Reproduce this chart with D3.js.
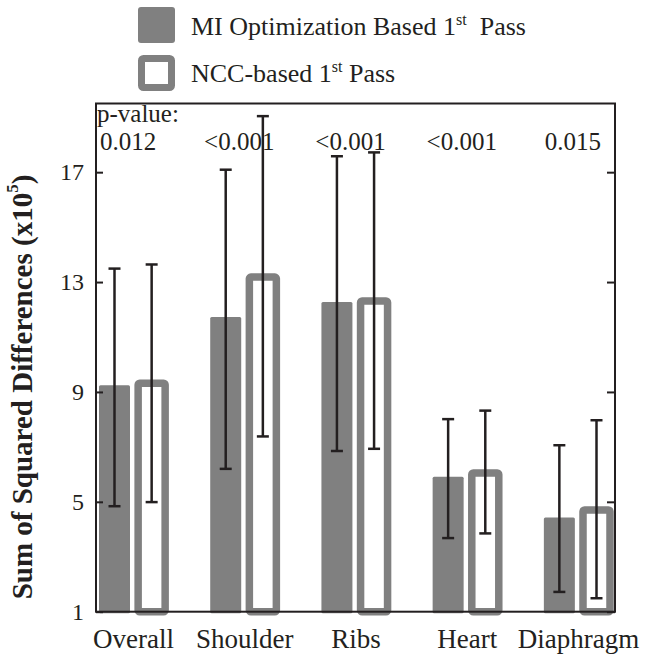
<!DOCTYPE html>
<html>
<head>
<meta charset="utf-8">
<script src="https://cdn.jsdelivr.net/npm/d3@7"></script>
<style>
  html, body { margin: 0; padding: 0; background: #fff; }
  svg, svg text { font-family: "Liberation Serif", "Times New Roman", Times, serif !important; }
</style>
</head>
<body>
<svg id="chart" width="650" height="656"></svg>
<script>
// Regions compared
const categories = ["Overall", "Shoulder", "Ribs", "Heart", "Diaphragm"];

// MI optimization based 1st pass: mean and error-bar limits (x10^5)
const miMean = [9.24, 11.73, 12.27, 5.91, 4.43];
const miLow  = [4.84, 6.20, 6.85, 3.68, 1.72];
const miHigh = [13.49, 17.09, 17.58, 8.01, 7.06];

// NCC-based 1st pass: mean and error-bar limits (x10^5)
const nccMean = [9.32, 13.18, 12.31, 6.05, 4.70];
const nccLow  = [4.99, 7.38, 6.93, 3.85, 1.49];
const nccHigh = [13.64, 19.04, 17.72, 8.32, 7.97];

// Paired test results per region
const pValues = ["0.012", "<0.001", "<0.001", "<0.001", "0.015"];

const yTicks = [1, 5, 9, 13, 17];
const yDomain = [1, 19.5];

const svg = d3.select("#chart");
const plot = { left: 96, right: 615, top: 103.5, bottom: 611.7 };
const gray = "#808080";
const ink = "#231f20";

const x = d3.scalePoint().domain(categories).range([plot.left, plot.right]).padding(1 / 3);
const y = d3.scaleLinear().domain(yDomain).range([plot.bottom, plot.top]);

const off = x.step() * 0.167;
const miW = 31, nccW = 27, nccStroke = 7.5;

const rows = categories.map((c, i) => ({
  c, mi: miMean[i], miLo: miLow[i], miHi: miHigh[i],
  ncc: nccMean[i], nccLo: nccLow[i], nccHi: nccHigh[i], p: pValues[i]
}));

// Filled bars (MI)
svg.append("g").selectAll("rect").data(rows).join("rect")
  .attr("x", d => x(d.c) - off - miW / 2)
  .attr("y", d => y(d.mi))
  .attr("width", miW)
  .attr("height", d => y(yDomain[0]) - y(d.mi) + 1.5)
  .attr("rx", 1.5)
  .attr("fill", gray);

// Outlined bars (NCC)
svg.append("g").selectAll("rect").data(rows).join("rect")
  .attr("x", d => x(d.c) + off - nccW / 2)
  .attr("y", d => y(d.ncc))
  .attr("width", nccW)
  .attr("height", d => y(yDomain[0]) - y(d.ncc))
  .attr("rx", 1.5)
  .attr("fill", "#fff")
  .attr("stroke", gray)
  .attr("stroke-width", nccStroke);

// p-value annotations
const ann = svg.append("g").attr("font-size", 25).attr("fill", ink);
ann.append("text").attr("x", plot.left + 1).attr("y", 122).text("p-value:");
ann.selectAll("text.pv").data(rows).join("text").attr("class", "pv")
  .attr("x", d => x(d.c) - 5)
  .attr("y", 150)
  .attr("text-anchor", "middle")
  .text(d => d.p);

// Error bars
function errorBars(lo, hi, dx) {
  const g = svg.append("g").attr("stroke", ink).attr("stroke-width", 2.5).attr("fill", "none");
  const cap = 6;
  rows.forEach(d => {
    const cx = x(d.c) + dx;
    g.append("line").attr("x1", cx).attr("x2", cx).attr("y1", y(d[lo])).attr("y2", y(d[hi]));
    g.append("line").attr("x1", cx - cap).attr("x2", cx + cap).attr("y1", y(d[lo])).attr("y2", y(d[lo]));
    g.append("line").attr("x1", cx - cap).attr("x2", cx + cap).attr("y1", y(d[hi])).attr("y2", y(d[hi]));
  });
}
errorBars("miLo", "miHi", -off);
errorBars("nccLo", "nccHi", off);

// Frame and axes
svg.append("rect")
  .attr("x", plot.left).attr("y", plot.top)
  .attr("width", plot.right - plot.left).attr("height", plot.bottom - plot.top)
  .attr("fill", "none").attr("stroke", ink).attr("stroke-width", 2);

const yAxisL = d3.axisLeft(y).tickValues(yTicks).tickSizeInner(-7).tickSizeOuter(0).tickPadding(12);
const gl = svg.append("g").attr("transform", `translate(${plot.left},0)`).call(yAxisL);
gl.attr("font-family", null);
gl.select(".domain").remove();
gl.selectAll(".tick line").attr("stroke", ink).attr("stroke-width", 2);
gl.selectAll(".tick text").attr("font-size", 24).attr("fill", ink);

const yAxisR = d3.axisRight(y).tickValues(yTicks).tickSizeInner(-8).tickSizeOuter(0).tickFormat("");
const gr = svg.append("g").attr("transform", `translate(${plot.right},0)`).call(yAxisR);
gr.select(".domain").remove();
gr.selectAll(".tick line").attr("stroke", ink).attr("stroke-width", 2);

// Category labels
const xAxis = d3.axisBottom(x).tickSize(0).tickPadding(17);
const gx = svg.append("g").attr("transform", `translate(0,${plot.bottom})`).call(xAxis);
gx.attr("font-family", null);
gx.select(".domain").remove();
gx.selectAll(".tick text").attr("font-size", 27).attr("fill", ink);

// Y-axis title
const yt = svg.append("text")
  .attr("transform", `translate(22,387) rotate(-90)`)
  .attr("text-anchor", "middle").attr("dominant-baseline", "central")
  .attr("font-size", 29).attr("font-weight", "bold").attr("fill", ink);
yt.append("tspan").text("Sum of Squared Differences (x10");
yt.append("tspan").attr("font-size", 17).attr("dy", -10).text("5");
yt.append("tspan").attr("dy", 10).text(")");

// Legend
const legend = svg.append("g").attr("font-size", 26).attr("fill", ink);
legend.append("rect").attr("x", 138).attr("y", 7).attr("width", 37).attr("height", 36)
  .attr("rx", 3).attr("fill", gray);
legend.append("rect").attr("x", 141.5).attr("y", 58.5).attr("width", 30).attr("height", 29)
  .attr("rx", 2).attr("fill", "#fff").attr("stroke", gray).attr("stroke-width", 7);
const l1 = legend.append("text").attr("x", 191).attr("y", 35);
l1.append("tspan").text("MI Optimization Based 1");
l1.append("tspan").attr("font-size", 16).attr("dy", -10).text("st");
l1.append("tspan").attr("dy", 10).text("\u00a0 Pass");
const l2 = legend.append("text").attr("x", 191).attr("y", 82);
l2.append("tspan").text("NCC-based 1");
l2.append("tspan").attr("font-size", 16).attr("dy", -10).text("st");
l2.append("tspan").attr("dy", 10).text(" Pass");
</script>
</body>
</html>
